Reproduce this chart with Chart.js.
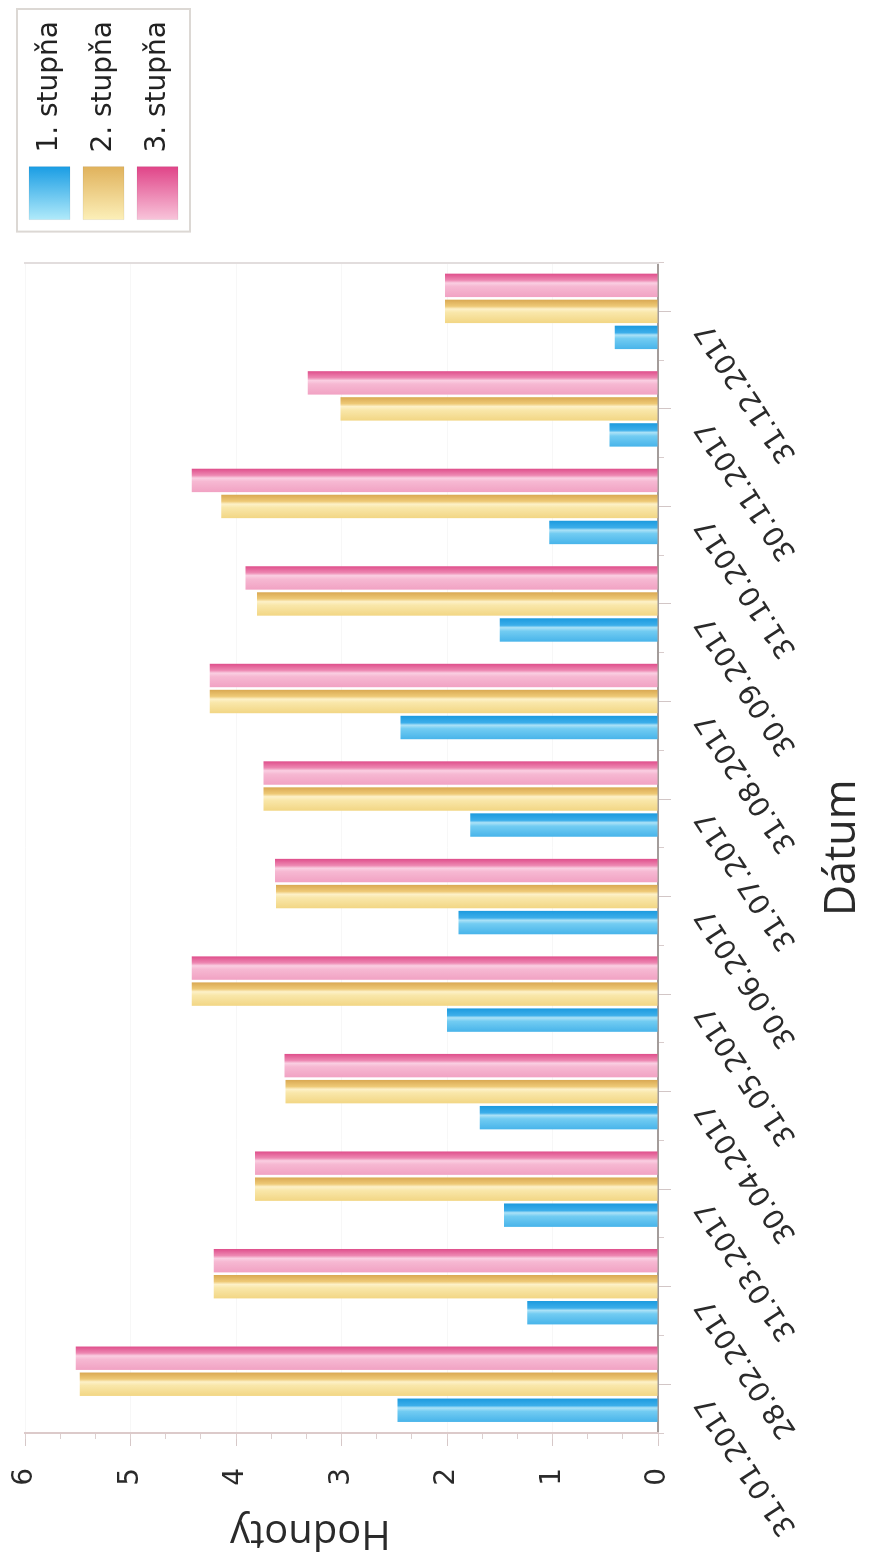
<!DOCTYPE html>
<html lang="sk">
<head>
<meta charset="utf-8">
<title>Hodnoty podľa dátumu</title>
<script src="https://cdn.jsdelivr.net/npm/chart.js@4.4.1/dist/chart.umd.min.js"></script>
<style>
  html, body { margin: 0; padding: 0; background: #fff; overflow: hidden; }
  /* graf je otočený o 90° proti smeru hodinových ručičiek */
  #wrap {
    position: absolute; left: 0; top: 1562px;
    width: 1562px; height: 869px;
    transform-origin: 0 0; transform: rotate(-90deg);
    background: #fff;
  }
</style>
</head>
<body>
<div id="wrap"><canvas id="graf"></canvas></div>
<script>
// Dáta
const datumy = ['31.01.2017', '28.02.2017', '31.03.2017', '30.04.2017', '31.05.2017', '30.06.2017',
                '31.07.2017', '31.08.2017', '30.09.2017', '31.10.2017', '30.11.2017', '31.12.2017'];
const nazvySerii = ['1. stupňa', '2. stupňa', '3. stupňa'];
const stupen1 = [2.47, 1.24, 1.46, 1.69, 2.00, 1.89, 1.78, 2.44, 1.50, 1.03, 0.46, 0.41];
const stupen2 = [5.48, 4.21, 3.82, 3.53, 4.42, 3.62, 3.74, 4.25, 3.80, 4.14, 3.01, 2.02];
const stupen3 = [5.52, 4.21, 3.82, 3.54, 4.42, 3.63, 3.74, 4.25, 3.91, 4.42, 3.32, 2.02];
const hodnotyOsi = [0, 1, 2, 3, 4, 5, 6];

const CAT_PCT = 0.8;
const BAR_PCT = 0.9;

// Farebné prechody (zľava doprava cez šírku stĺpca)
const prechody = [
  [[0, '#48b4ea'], [0.45, '#72ccf2'], [0.6, '#ace2f7'], [0.7, '#3caeea'], [1, '#1c9ade']],
  [[0, '#f2d684'], [0.45, '#f9e7aa'], [0.6, '#fdf1c8'], [0.72, '#eec976'], [1, '#d9a852']],
  [[0, '#f1a2c3'], [0.45, '#f6b8d2'], [0.6, '#facfe2'], [0.72, '#ed88b2'], [1, '#df4e8b']]
];
const legendaPrechody = [
  [[0, '#b0eafa'], [1, '#1a9de4']],
  [[0, '#fcefb8'], [1, '#e0b25c']],
  [[0, '#f8c4da'], [1, '#e04488']]
];
const plneFarby = ['#3ab0ea', '#f2d888', '#ee8ab6'];

function vyplnStlpca(stops, zaloha) {
  return function (ctx) {
    const chart = ctx.chart;
    const xs = chart.scales.x;
    if (ctx.type !== 'data' || !xs || xs.left === undefined) return zaloha;
    const n = chart.data.labels.length;
    const group = (xs.right - xs.left) / n * CAT_PCT;
    const slot = group / chart.data.datasets.length;
    const stred = xs.getPixelForValue(ctx.dataIndex) - group / 2 + slot * (ctx.datasetIndex + 0.5);
    const pol = slot * BAR_PCT / 2;
    const g = chart.ctx.createLinearGradient(stred - pol, 0, stred + pol, 0);
    stops.forEach(s => g.addColorStop(s[0], s[1]));
    return g;
  };
}

// Rámik okolo legendy a prechody vo štvorčekoch legendy
const legendaRamik = {
  id: 'legendaRamik',
  afterLayout(chart) {
    // legenda začína trochu nad plochou grafu
    chart.legend.top = chart.chartArea.top - 9;
  },
  afterUpdate(chart) {
    const lg = chart.legend;
    const pad = lg.options.labels.padding;
    const bw = lg.options.labels.boxWidth;
    const x0 = lg.left + pad;
    lg.legendItems.forEach((item, i) => {
      const g = chart.ctx.createLinearGradient(x0, 0, x0 + bw, 0);
      legendaPrechody[i].forEach(s => g.addColorStop(s[0], s[1]));
      item.fillStyle = g;
      item.strokeStyle = 'rgba(0,0,0,0.06)';
      item.lineWidth = 1;
    });
  },
  afterDraw(chart) {
    const lg = chart.legend;
    const pad = lg.options.labels.padding;
    const col = lg.columnSizes[0];
    const c = chart.ctx;
    c.save();
    c.strokeStyle = '#dcd8d4';
    c.lineWidth = 2;
    c.strokeRect(lg.left + pad - 12, lg.top + pad - 12, col.width + 24, col.height - pad + 24);
    c.restore();
  }
};

const ctx = document.getElementById('graf').getContext('2d');

new Chart(ctx, {
  type: 'bar',
  data: {
    labels: datumy,
    datasets: [stupen1, stupen2, stupen3].map((d, i) => ({
      label: nazvySerii[i],
      data: d,
      backgroundColor: vyplnStlpca(prechody[i], plneFarby[i]),
      borderWidth: 0,
      categoryPercentage: CAT_PCT,
      barPercentage: BAR_PCT,
      xAxisID: 'x',
      yAxisID: 'y'
    }))
  },
  options: {
    responsive: true,
    maintainAspectRatio: false,
    animation: false,
    layout: { padding: { top: 25, right: 11, bottom: 0, left: 0 } },
    plugins: {
      legend: {
        position: 'right',
        align: 'start',
        maxWidth: 400,
        labels: {
          boxWidth: 53,
          boxHeight: 41,
          padding: 13,
          color: '#222',
          font: { family: 'DejaVu Sans', size: 28 }
        }
      },
      tooltip: { enabled: false }
    },
    scales: {
      x: {
        type: 'category',
        position: 'bottom',
        weight: 1,
        offset: true,
        grid: { offset: false, drawOnChartArea: false, tickLength: 13, color: '#d2c6c6' },
        border: { display: true, color: '#a39c9a', width: 2 },
        ticks: {
          autoSkip: false,
          minRotation: 33,
          maxRotation: 33,
          padding: 18,
          labelOffset: -14,
          color: '#2a2a2a',
          font: { family: 'DejaVu Sans', size: 28 }
        },
        title: {
          display: true,
          text: 'Dátum',
          color: '#2a2a2a',
          font: { family: 'Open Sans', size: 43 },
          padding: { top: 0, bottom: 0 }
        },
        afterFit(s) { s.height = 211; }
      },
      xMinor: {
        type: 'category',
        position: 'bottom',
        weight: 0,
        offset: true,
        grid: { offset: true, drawOnChartArea: false, tickLength: 6, color: '#d8cccc' },
        border: { display: false },
        ticks: { display: false },
        afterFit(s) { s.height = 0; }
      },
      y: {
        type: 'linear',
        position: 'left',
        weight: 1,
        min: hodnotyOsi[0],
        max: hodnotyOsi[hodnotyOsi.length - 1],
        grid: { color: 'rgba(0,0,0,0.03)', tickLength: 13, tickColor: '#d6c8c8' },
        border: { display: true, color: '#dccaca', width: 2 },
        ticks: {
          stepSize: 1,
          padding: 22,
          color: '#2a2a2a',
          font: { family: 'DejaVu Sans', size: 28 },
          callback: v => hodnotyOsi.includes(v) ? v : ''
        },
        title: {
          display: true,
          text: '      Hodnoty',
          color: '#2a2a2a',
          font: { family: 'Open Sans', size: 40 },
          padding: { top: 6, bottom: 0 }
        },
        afterFit(s) {
          s.width = 129;
          s.paddingTop = 0;
          s.paddingBottom = 0;
        }
      },
      yMinor: {
        type: 'linear',
        position: 'left',
        weight: 0,
        min: hodnotyOsi[0],
        max: hodnotyOsi[hodnotyOsi.length - 1],
        grid: { drawOnChartArea: false, tickLength: 6, color: '#dccfcf' },
        border: { display: false },
        ticks: { display: false, stepSize: 1 / 3 },
        afterFit(s) { s.width = 0; }
      },
      okraj: {
        type: 'linear',
        position: 'right',
        weight: 0,
        grid: { display: false },
        border: { display: true, color: '#e2dddd', width: 2, dash: [2, 4] },
        ticks: { display: false },
        afterFit(s) { s.width = 30; }
      }
    }
  },
  plugins: [legendaRamik]
});
</script>
</body>
</html>
